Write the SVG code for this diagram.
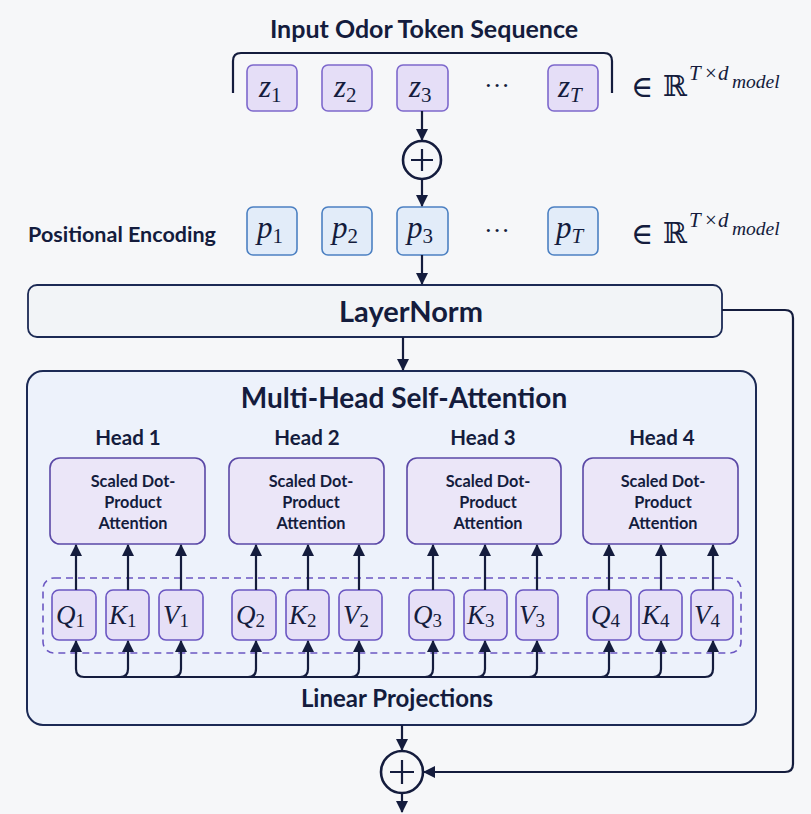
<svg xmlns="http://www.w3.org/2000/svg" width="811" height="814" viewBox="0 0 811 814">
<defs>
<marker id="ah" markerUnits="userSpaceOnUse" markerWidth="12" markerHeight="12" viewBox="0 0 12 12" refX="11" refY="6" orient="auto">
<path d="M0,0 L12,6 L0,12 z" fill="#141c3d"/>
</marker>
<style>
.lbl{font-family:Lato,"Noto Sans","Liberation Sans",sans-serif;font-weight:700;fill:#141c3d;text-anchor:middle}
.math{font-family:"Liberation Serif","DejaVu Serif",serif;fill:#141c3d}
.it{font-style:italic}
.tok{fill:#e5def7;stroke:#7d68cc;stroke-width:1.6}
.pos{fill:#e2ecf9;stroke:#4c80c2;stroke-width:1.6}
.att{fill:#ebe6f8;stroke:#5a48a6;stroke-width:1.6}
.qkv{fill:#e6e0f7;stroke:#6b57c2;stroke-width:1.6}
.ln{fill:none;stroke:#141c3d;stroke-width:2.2}
.arr{fill:none;stroke:#141c3d;stroke-width:2.2;marker-end:url(#ah)}
</style>
</defs>
<rect width="811" height="814" fill="#f6f7f9"/>

<g id="title"><text class="lbl" x="424" y="38" font-size="25">Input Odor Token Sequence</text></g>

<g id="bracket"><path class="ln" d="M233,93 V61 Q233,53 241,53 H604 Q612,53 612,61 V93"/></g>

<g id="tokens">
<rect class="tok" x="247" y="65" width="50" height="46" rx="6"/>
<rect class="tok" x="322" y="65" width="50" height="46" rx="6"/>
<rect class="tok" x="397" y="65" width="51" height="46" rx="6"/>
<rect class="tok" x="548" y="65" width="50" height="46" rx="6"/>
<text class="math" font-size="31" y="97"><tspan x="259" class="it">z</tspan><tspan font-size="21" dy="5">1</tspan></text>
<text class="math" font-size="31" y="97"><tspan x="334" class="it">z</tspan><tspan font-size="21" dy="5">2</tspan></text>
<text class="math" font-size="31" y="97"><tspan x="409" class="it">z</tspan><tspan font-size="21" dy="5">3</tspan></text>
<text class="math" font-size="31" y="97"><tspan x="558" class="it">z</tspan><tspan font-size="21" dy="5" class="it">T</tspan></text>
<text class="math" font-size="26" x="497" y="94" text-anchor="middle">···</text>
</g>

<g id="dim1" class="math">
<text font-size="30" x="631" y="97">∈</text>
<text font-size="29" x="663" y="96" font-family="DejaVu Serif">ℝ</text>
<text font-size="21" y="80"><tspan x="689" class="it">T</tspan><tspan x="705">×</tspan><tspan x="718" class="it">d</tspan></text>
<text font-size="19.5" y="88" class="it" x="732">model</text>
</g>

<g id="add1">
<circle cx="422" cy="160" r="19" fill="#f6f7f9" stroke="#141c3d" stroke-width="2.6"/>
<path class="ln" d="M411,160 H433 M422,149 V171" stroke-width="2.6"/>
</g>

<g id="poslabel"><text class="lbl" x="122" y="242" font-size="21.5">Positional Encoding</text></g>

<g id="posenc">
<rect class="pos" x="247" y="207" width="50" height="48" rx="6"/>
<rect class="pos" x="322" y="207" width="50" height="48" rx="6"/>
<rect class="pos" x="397" y="207" width="51" height="48" rx="6"/>
<rect class="pos" x="548" y="207" width="50" height="48" rx="6"/>
<text class="math" font-size="31" y="238"><tspan x="257" class="it">p</tspan><tspan font-size="21" dy="5">1</tspan></text>
<text class="math" font-size="31" y="238"><tspan x="332" class="it">p</tspan><tspan font-size="21" dy="5">2</tspan></text>
<text class="math" font-size="31" y="238"><tspan x="407" class="it">p</tspan><tspan font-size="21" dy="5">3</tspan></text>
<text class="math" font-size="31" y="238"><tspan x="556" class="it">p</tspan><tspan font-size="21" dy="5" class="it">T</tspan></text>
<text class="math" font-size="26" x="497" y="239" text-anchor="middle">···</text>
</g>

<g id="dim2" class="math">
<text font-size="30" x="631" y="244">∈</text>
<text font-size="29" x="663" y="243" font-family="DejaVu Serif">ℝ</text>
<text font-size="21" y="227"><tspan x="689" class="it">T</tspan><tspan x="705">×</tspan><tspan x="718" class="it">d</tspan></text>
<text font-size="19.5" y="235" class="it" x="732">model</text>
</g>

<g id="layernorm">
<rect x="28" y="285" width="694" height="52" rx="9" fill="#f2f4f7" stroke="#1c2a55" stroke-width="1.8"/>
<text class="lbl" x="411" y="322" font-size="29">LayerNorm</text>
</g>

<g id="mhsa">
<rect x="27" y="371" width="729" height="354" rx="16" fill="#edf2fb" stroke="#1c2a55" stroke-width="2"/>
<text class="lbl" x="404" y="408" font-size="28">Multi-Head Self-Attention</text>
<rect x="43" y="578" width="698" height="75" rx="11" fill="none" stroke="#6b57c2" stroke-width="1.6" stroke-dasharray="7,5"/>
<text class="lbl" x="397" y="707" font-size="24">Linear Projections</text>
</g>

<g id="head1">
<text class="lbl" x="128" y="445" font-size="20.5">Head 1</text>
<rect class="att" x="50" y="458" width="155" height="86" rx="10"/>
<text class="lbl" font-size="16.3"><tspan x="133" y="487">Scaled Dot-</tspan><tspan x="133" y="508">Product</tspan><tspan x="133" y="529">Attention</tspan></text>
</g>
<g id="head2">
<text class="lbl" x="307" y="445" font-size="20.5">Head 2</text>
<rect class="att" x="229" y="458" width="155" height="86" rx="10"/>
<text class="lbl" font-size="16.3"><tspan x="311" y="487">Scaled Dot-</tspan><tspan x="311" y="508">Product</tspan><tspan x="311" y="529">Attention</tspan></text>
</g>
<g id="head3">
<text class="lbl" x="483" y="445" font-size="20.5">Head 3</text>
<rect class="att" x="407" y="458" width="154" height="86" rx="10"/>
<text class="lbl" font-size="16.3"><tspan x="488" y="487">Scaled Dot-</tspan><tspan x="488" y="508">Product</tspan><tspan x="488" y="529">Attention</tspan></text>
</g>
<g id="head4">
<text class="lbl" x="662" y="445" font-size="20.5">Head 4</text>
<rect class="att" x="583" y="458" width="155" height="86" rx="10"/>
<text class="lbl" font-size="16.3"><tspan x="663" y="487">Scaled Dot-</tspan><tspan x="663" y="508">Product</tspan><tspan x="663" y="529">Attention</tspan></text>
</g>

<g id="qkv">
<rect class="qkv" x="52" y="590" width="44" height="50" rx="7"/>
<rect class="qkv" x="106" y="590" width="43" height="50" rx="7"/>
<rect class="qkv" x="159" y="590" width="44" height="50" rx="7"/>
<rect class="qkv" x="232" y="590" width="44" height="50" rx="7"/>
<rect class="qkv" x="286" y="590" width="43" height="50" rx="7"/>
<rect class="qkv" x="339" y="590" width="43" height="50" rx="7"/>
<rect class="qkv" x="409" y="590" width="45" height="50" rx="7"/>
<rect class="qkv" x="464" y="590" width="43" height="50" rx="7"/>
<rect class="qkv" x="516" y="590" width="42" height="50" rx="7"/>
<rect class="qkv" x="587" y="590" width="44" height="50" rx="7"/>
<rect class="qkv" x="639" y="590" width="43" height="50" rx="7"/>
<rect class="qkv" x="691" y="590" width="42" height="50" rx="7"/>
<g class="math" font-size="27">
<text y="624"><tspan x="56" class="it">Q</tspan><tspan font-size="19" dy="3">1</tspan></text>
<text y="624"><tspan x="109" class="it">K</tspan><tspan font-size="19" dy="3">1</tspan></text>
<text y="624"><tspan x="163" class="it">V</tspan><tspan font-size="19" dy="3">1</tspan></text>
<text y="624"><tspan x="236" class="it">Q</tspan><tspan font-size="19" dy="3">2</tspan></text>
<text y="624"><tspan x="289" class="it">K</tspan><tspan font-size="19" dy="3">2</tspan></text>
<text y="624"><tspan x="343" class="it">V</tspan><tspan font-size="19" dy="3">2</tspan></text>
<text y="624"><tspan x="413" class="it">Q</tspan><tspan font-size="19" dy="3">3</tspan></text>
<text y="624"><tspan x="467" class="it">K</tspan><tspan font-size="19" dy="3">3</tspan></text>
<text y="624"><tspan x="519" class="it">V</tspan><tspan font-size="19" dy="3">3</tspan></text>
<text y="624"><tspan x="591" class="it">Q</tspan><tspan font-size="19" dy="3">4</tspan></text>
<text y="624"><tspan x="642" class="it">K</tspan><tspan font-size="19" dy="3">4</tspan></text>
<text y="624"><tspan x="694" class="it">V</tspan><tspan font-size="19" dy="3">4</tspan></text>
</g>
</g>

<g id="add2">
<circle cx="402" cy="772" r="21" fill="#f6f7f9" stroke="#141c3d" stroke-width="2.6"/>
<path class="ln" d="M390,772 H414 M402,760 V784" stroke-width="2.6"/>
</g>

<g id="connectors">
<path class="arr" d="M422,111 V140"/>
<path class="arr" d="M422,179 V206"/>
<path class="arr" d="M422,255 V284"/>
<path class="arr" d="M403,337 V370"/>
<path class="arr" d="M402,725 V750"/>
<path class="arr" d="M402,793 V812"/>
<path class="arr" d="M722,310 H785 Q793,310 793,318 V764 Q793,772 785,772 H424"/>
<path class="arr" d="M76,590 V545"/>
<path class="arr" d="M128,590 V545"/>
<path class="arr" d="M181,590 V545"/>
<path class="arr" d="M256,590 V545"/>
<path class="arr" d="M308,590 V545"/>
<path class="arr" d="M359,590 V545"/>
<path class="arr" d="M433,590 V545"/>
<path class="arr" d="M485,590 V545"/>
<path class="arr" d="M537,590 V545"/>
<path class="arr" d="M609,590 V545"/>
<path class="arr" d="M661,590 V545"/>
<path class="arr" d="M713,590 V545"/>
<path class="ln" d="M84,677 H705"/>
<path class="arr" d="M84,677 Q76,677 76,669 V641"/>
<path class="arr" d="M120,677 Q128,677 128,669 V641"/>
<path class="arr" d="M173,677 Q181,677 181,669 V641"/>
<path class="arr" d="M248,677 Q256,677 256,669 V641"/>
<path class="arr" d="M300,677 Q308,677 308,669 V641"/>
<path class="arr" d="M351,677 Q359,677 359,669 V641"/>
<path class="arr" d="M425,677 Q433,677 433,669 V641"/>
<path class="arr" d="M477,677 Q485,677 485,669 V641"/>
<path class="arr" d="M529,677 Q537,677 537,669 V641"/>
<path class="arr" d="M601,677 Q609,677 609,669 V641"/>
<path class="arr" d="M653,677 Q661,677 661,669 V641"/>
<path class="arr" d="M705,677 Q713,677 713,669 V641"/>
</g>
</svg>
